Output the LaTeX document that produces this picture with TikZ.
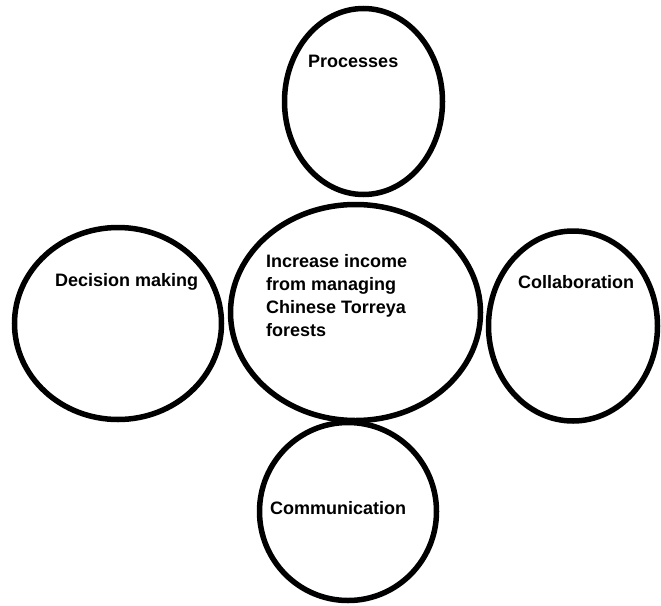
\documentclass[tikz,border=0pt]{standalone}
\usepackage{fontspec}
\setmainfont{Liberation Sans}
\usepackage{tikz}
\usetikzlibrary{shapes.geometric, positioning}

\begin{document}
\begin{tikzpicture}[
  x=1pt, y=-1pt,
  blob/.style={draw, ellipse, line width=5.5pt, inner sep=0pt},
  lbl/.style={font=\fontsize{18}{23}\selectfont\bfseries, anchor=base west,
              inner sep=0pt, align=left},
]

% --- Canvas ---
\fill[white] (0,0) rectangle (661,605);

% --- Ellipses ---
\node[blob, minimum width=158pt, minimum height=186pt] (proc)   at (363.5,101.5) {};
\node[blob, minimum width=250pt, minimum height=216pt] (goal)   at (355.5,312.5) {};
\node[blob, minimum width=207pt, minimum height=192pt] (decis)  at (118,323.5) {};
\node[blob, minimum width=169pt, minimum height=190pt] (collab) at (573,326) {};
\node[blob, minimum width=177pt, minimum height=178pt] (comm)   at (348,511.5) {};

% --- Labels (base of the last line for the goal text) ---
\node[lbl] (procT)   at (308,67)  {Processes};
\node[lbl] (decisT)  at (55,286)  {Decision making};
\node[lbl] (collabT) at (518,288) {Collaboration};
\node[lbl] (commT)   at (270,514) {Communication};
\node[lbl] (goalT)   at (266,336) {Increase income\\from managing\\Chinese Torreya\\forests};

\end{tikzpicture}
\end{document}
